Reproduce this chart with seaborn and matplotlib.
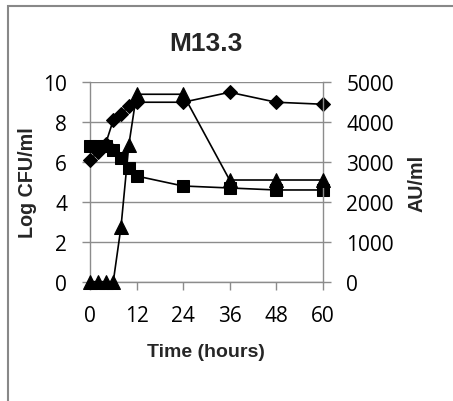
import matplotlib
matplotlib.use("Agg")
import matplotlib.pyplot as plt
import seaborn as sns
import pandas as pd
from matplotlib.patches import Rectangle

# Data
time_cfu = [0, 2, 4, 6, 8, 10, 12, 24, 36, 48, 60]
log_cfu_diamond = [6.1, 6.5, 6.9, 8.1, 8.4, 8.8, 9.0, 9.0, 9.5, 9.0, 8.9]
log_cfu_square = [6.8, 6.8, 6.8, 6.6, 6.2, 5.7, 5.3, 4.8, 4.7, 4.6, 4.6]
time_au = [0, 2, 4, 6, 8, 10, 12, 24, 36, 48, 60]
au_ml = [0, 0, 0, 0, 1380, 3420, 4700, 4700, 2550, 2550, 2550]

title = "M13.3"
xlabel = "Time (hours)"
ylabel_left = "Log CFU/ml"
ylabel_right = "AU/ml"
xticks = [0, 12, 24, 36, 48, 60]
yticks_left = [0, 2, 4, 6, 8, 10]
yticks_right = [0, 1000, 2000, 3000, 4000, 5000]

sns.set_theme(style="white")
plt.rcParams['font.family'] = ['Open Sans', 'DejaVu Sans']
bold_font = ['Liberation Sans', 'DejaVu Sans']

fig = plt.figure(figsize=(4.53, 4.02), dpi=100)
ax = fig.add_axes([90/453, 1-282.7/402, (322.7-90)/453, (282.7-83.3)/402])
ax2 = ax.twinx()

grid_c = "#8c8c8c"

df1 = pd.DataFrame({"t": time_cfu, "v": log_cfu_diamond})
df2 = pd.DataFrame({"t": time_cfu, "v": log_cfu_square})
df3 = pd.DataFrame({"t": time_au, "v": au_ml})

sns.lineplot(data=df1, x="t", y="v", ax=ax, color="black", lw=1.2,
             marker="D", markersize=7.5, markeredgecolor="black", zorder=3,
             clip_on=False)
sns.lineplot(data=df2, x="t", y="v", ax=ax, color="black", lw=1.2,
             marker="s", markersize=8.5, markeredgecolor="black", zorder=3,
             clip_on=False)
sns.lineplot(data=df3, x="t", y="v", ax=ax2, color="black", lw=1.2,
             marker="^", markersize=10, markeredgecolor="black", zorder=3,
             clip_on=False)

ax.set_xlim(0, 60)
ax.set_ylim(0, 10)
ax2.set_ylim(0, 5000)
ax.set_xticks(xticks)
ax.set_yticks(yticks_left)
ax2.set_yticks(yticks_right)

ax.grid(axis="y", color=grid_c, lw=1.0)
ax.grid(axis="x", visible=False)
ax2.grid(False)

for a in (ax, ax2):
    for s in a.spines.values():
        s.set_visible(False)
ax.spines["left"].set_visible(True)
ax.spines["bottom"].set_visible(True)
ax2.spines["right"].set_visible(True)
for s in (ax.spines["left"], ax.spines["bottom"], ax2.spines["right"]):
    s.set_color(grid_c)
    s.set_linewidth(1.0)

ax.tick_params(axis="both", which="major", labelsize=15, colors="black",
               length=6, width=1.0, color=grid_c, direction="out",
               left=True, bottom=True)
ax.tick_params(axis="y", pad=10.5)
ax.tick_params(axis="x", pad=11)
ax2.tick_params(axis="y", labelsize=15, colors="black", length=6, width=1.0,
                color=grid_c, direction="out", right=True, pad=11)

ax.set_xlabel(xlabel, fontsize=14, fontweight="bold", family=bold_font, labelpad=12)
ax.set_ylabel(ylabel_left, fontsize=14.2, fontweight="bold", family=bold_font, labelpad=4.5)
ax2.set_ylabel(ylabel_right, fontsize=14.2, fontweight="bold", family=bold_font, labelpad=10)
ax.set_title(title, fontsize=19, fontweight="bold", family=bold_font, pad=23.5)

ax.patch.set_visible(False)
ax2.patch.set_visible(False)

# outer chart frame (left and top edges visible)
fig.patches.append(Rectangle((7.5/453, -0.1), 1.2, 1.1 - 7.5/402,
                             transform=fig.transFigure, fill=False,
                             edgecolor="#888888", lw=1.5))

fig.savefig("out.png", dpi=100)
